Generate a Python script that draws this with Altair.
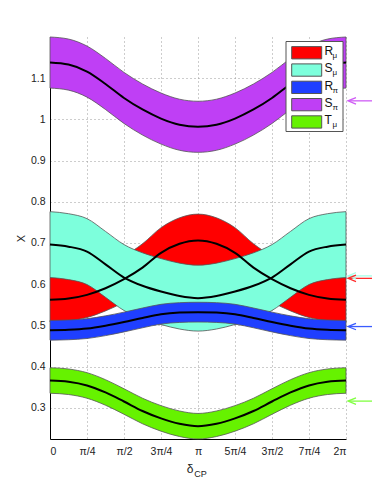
import altair as alt
import pandas as pd

# delta_CP in units of pi
delta_pi = [0, 0.125, 0.25, 0.375, 0.5, 0.625, 0.75, 0.875, 1.0,
            1.125, 1.25, 1.375, 1.5, 1.625, 1.75, 1.875, 2.0]

R_mu_lo  = [0.508, 0.511, 0.519, 0.535, 0.556, 0.582, 0.615, 0.635, 0.642, 0.635, 0.615, 0.582, 0.556, 0.535, 0.519, 0.511, 0.508]
R_mu_mid = [0.562, 0.565, 0.574, 0.590, 0.612, 0.640, 0.676, 0.698, 0.706, 0.698, 0.676, 0.640, 0.612, 0.590, 0.574, 0.565, 0.562]
R_mu_hi  = [0.616, 0.619, 0.629, 0.645, 0.668, 0.698, 0.737, 0.761, 0.770, 0.761, 0.737, 0.698, 0.668, 0.645, 0.629, 0.619, 0.616]

S_mu_lo  = [0.616, 0.611, 0.599, 0.568, 0.536, 0.516, 0.502, 0.491, 0.486, 0.491, 0.502, 0.516, 0.536, 0.568, 0.599, 0.611, 0.616]
S_mu_mid = [0.696, 0.691, 0.679, 0.648, 0.616, 0.596, 0.582, 0.571, 0.566, 0.571, 0.582, 0.596, 0.616, 0.648, 0.679, 0.691, 0.696]
S_mu_hi  = [0.776, 0.771, 0.759, 0.728, 0.696, 0.676, 0.662, 0.651, 0.646, 0.651, 0.662, 0.676, 0.696, 0.728, 0.759, 0.771, 0.776]

R_pi_lo  = [0.464, 0.465, 0.468, 0.475, 0.484, 0.494, 0.503, 0.507, 0.508, 0.507, 0.503, 0.494, 0.484, 0.475, 0.468, 0.465, 0.464]
R_pi_mid = [0.488, 0.489, 0.492, 0.499, 0.508, 0.518, 0.527, 0.531, 0.532, 0.531, 0.527, 0.518, 0.508, 0.499, 0.492, 0.489, 0.488]
R_pi_hi  = [0.512, 0.513, 0.516, 0.523, 0.532, 0.542, 0.551, 0.555, 0.556, 0.555, 0.551, 0.542, 0.532, 0.523, 0.516, 0.513, 0.512]

S_pi_lo  = [1.076, 1.071, 1.054, 1.024, 0.990, 0.962, 0.940, 0.925, 0.920, 0.925, 0.940, 0.962, 0.990, 1.024, 1.054, 1.071, 1.076]
S_pi_mid = [1.138, 1.133, 1.116, 1.086, 1.052, 1.024, 1.002, 0.987, 0.982, 0.987, 1.002, 1.024, 1.052, 1.086, 1.116, 1.133, 1.138]
S_pi_hi  = [1.200, 1.195, 1.178, 1.148, 1.114, 1.086, 1.064, 1.049, 1.044, 1.049, 1.064, 1.086, 1.114, 1.148, 1.178, 1.195, 1.200]

T_mu_lo  = [0.335, 0.332, 0.323, 0.306, 0.284, 0.261, 0.243, 0.230, 0.224, 0.230, 0.243, 0.261, 0.284, 0.306, 0.323, 0.332, 0.335]
T_mu_mid = [0.366, 0.363, 0.354, 0.337, 0.315, 0.292, 0.274, 0.261, 0.255, 0.261, 0.274, 0.292, 0.315, 0.337, 0.354, 0.363, 0.366]
T_mu_hi  = [0.397, 0.394, 0.385, 0.368, 0.346, 0.323, 0.305, 0.292, 0.286, 0.292, 0.305, 0.323, 0.346, 0.368, 0.385, 0.394, 0.397]

series_names = ["R_mu", "S_mu", "R_pi", "S_pi", "T_mu"]
legend_main = ["R", "S", "R", "S", "T"]
legend_sub = ["μ", "μ", "π", "π", "μ"]
series_colors = ["#ff0000", "#7dffdc", "#1f3fff", "#bf3ff5", "#66f200"]

# arrows at right margin
arrow_values = [1.045, 0.620, 0.614, 0.497, 0.316]
arrow_colors = ["#cf5cf5", "#a8ffe8", "#ff2a2a", "#3a5cff", "#80ff40"]

x_tick_values = [0, 0.25, 0.5, 0.75, 1.0, 1.25, 1.5, 1.75, 2.0]
x_tick_labels = ["0", "π/4", "π/2", "3π/4", "π", "5π/4", "3π/2", "7π/4", "2π"]
y_tick_values = [0.3, 0.4, 0.5, 0.6, 0.7, 0.8, 0.9, 1.0, 1.1]

los = [R_mu_lo, S_mu_lo, R_pi_lo, S_pi_lo, T_mu_lo]
mids = [R_mu_mid, S_mu_mid, R_pi_mid, S_pi_mid, T_mu_mid]
his = [R_mu_hi, S_mu_hi, R_pi_hi, S_pi_hi, T_mu_hi]

rows = []
for name, lo, mid, hi in zip(series_names, los, mids, his):
    for d, a, m, b in zip(delta_pi, lo, mid, hi):
        rows.append({"d": d, "series": name, "lo": a, "mid": m, "hi": b})
df = pd.DataFrame(rows)

arrow_df = pd.DataFrame({"v": arrow_values, "c": arrow_colors})

FONT = "Liberation Sans"
label_expr = "[" + ",".join("'%s'" % s for s in x_tick_labels) + "][round(datum.value*4)]"

xscale = alt.Scale(domain=[0, 2], nice=False, zero=False)
yscale = alt.Scale(domain=[0.224, 1.2], nice=False, zero=False)

xaxis = alt.Axis(values=x_tick_values, labelExpr=label_expr, grid=True,
                 gridDash=[1, 3], gridColor="#9a9a9a", gridWidth=1,
                 ticks=False, domainColor="#000000", domainWidth=1,
                 labelPadding=7, labelFontSize=10.5, labelColor="#222222",
                 labelFont=FONT, title=None)
yaxis = alt.Axis(values=y_tick_values, format=".1~f", grid=True,
                 gridDash=[1, 3], gridColor="#9a9a9a", gridWidth=1,
                 ticks=False, domainColor="#000000", domainWidth=1,
                 labelPadding=5, labelFontSize=10.5, labelColor="#222222",
                 labelFont=FONT, title="X", titleFont=FONT, titleFontSize=11,
                 titleFontWeight="normal", titleColor="#222222", titlePadding=4)

X = alt.X("d:Q", scale=xscale, axis=xaxis)

layers = []
for name, col in zip(series_names, series_colors):
    layers.append(
        alt.Chart(df).transform_filter(alt.datum.series == name)
        .mark_area(color=col, stroke="#555555", strokeWidth=0.8,
                   interpolate="monotone", opacity=1)
        .encode(x=X, y=alt.Y("lo:Q", scale=yscale, axis=yaxis), y2="hi:Q")
    )

layers.append(
    alt.Chart(df).mark_line(color="black", strokeWidth=2, interpolate="monotone")
    .encode(x=X, y=alt.Y("mid:Q", scale=yscale, axis=yaxis), detail="series:N")
)

one = pd.DataFrame({"k": [0]})

# legend box
layers.append(
    alt.Chart(one).mark_rect(fill="white", stroke="#555555", strokeWidth=1)
    .encode(x=alt.value(236), x2=alt.value(293), y=alt.value(4.5), y2=alt.value(94.5))
)
for i, (col, mtxt, stxt) in enumerate(zip(series_colors, legend_main, legend_sub)):
    top = 9.6 + 17.3 * i
    layers.append(
        alt.Chart(one).mark_rect(fill=col, stroke="#555555", strokeWidth=1)
        .encode(x=alt.value(241.7), x2=alt.value(271.7), y=alt.value(top), y2=alt.value(top + 12.3))
    )
    layers.append(
        alt.Chart(one).mark_text(text=mtxt, font=FONT, fontSize=12, align="left",
                                 baseline="middle", color="#111111")
        .encode(x=alt.value(274.5), y=alt.value(top + 4.5))
    )
    layers.append(
        alt.Chart(one).mark_text(text=stxt, font=FONT, fontSize=8, align="left",
                                 baseline="middle", color="#111111")
        .encode(x=alt.value(282.5), y=alt.value(top + 9.5))
    )

# arrows
layers.append(
    alt.Chart(arrow_df).mark_rule(strokeWidth=1.3)
    .encode(x=alt.value(299), x2=alt.value(322),
            y=alt.Y("v:Q", scale=yscale, axis=yaxis),
            color=alt.Color("c:N", scale=None))
)
layers.append(
    alt.Chart(arrow_df).mark_point(shape="M1,-0.8L-1,0L1,0.8", filled=False,
                                   size=64, strokeWidth=1.3, opacity=1)
    .encode(x=alt.value(302), y=alt.Y("v:Q", scale=yscale, axis=yaxis),
            color=alt.Color("c:N", scale=None))
)

# x-axis title delta_CP
layers.append(
    alt.Chart(one).mark_text(text="δ", font=FONT, fontSize=12, align="center",
                             baseline="middle", color="#222222")
    .encode(x=alt.value(140), y=alt.value(432))
)
layers.append(
    alt.Chart(one).mark_text(text="CP", font=FONT, fontSize=9, align="center",
                             baseline="middle", color="#222222")
    .encode(x=alt.value(150.5), y=alt.value(436.5))
)

chart = alt.layer(*layers).properties(
    width=296, height=402,
    autosize=alt.AutoSizeParams(type="none"),
    padding={"left": 42, "top": 29, "right": 28, "bottom": 47},
).configure_view(strokeWidth=0)

chart.save("out.html", embed_options={"renderer": "svg", "actions": False})
